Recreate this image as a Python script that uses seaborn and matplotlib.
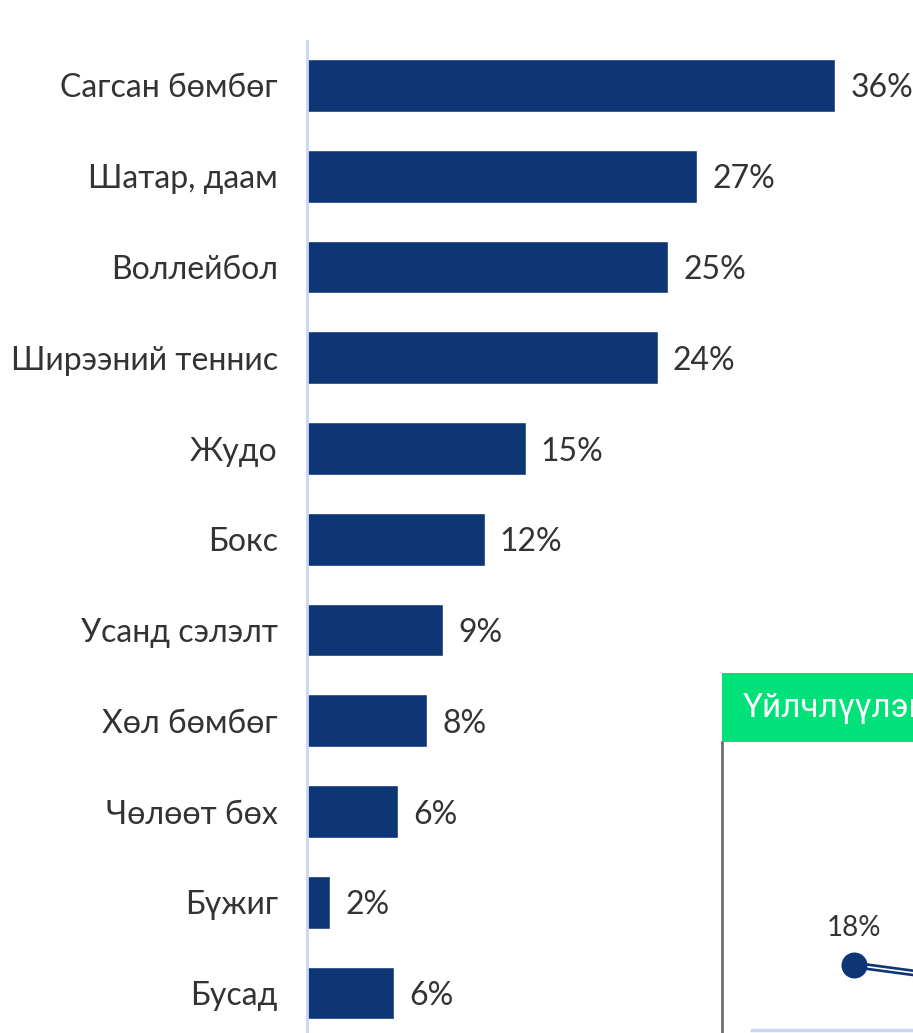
import matplotlib
matplotlib.use("Agg")
import matplotlib.pyplot as plt
import seaborn as sns
import pandas as pd

categories = ["Сагсан бөмбөг", "Шатар, даам", "Воллейбол", "Ширээний теннис", "Жудо",
              "Бокс", "Усанд сэлэлт", "Хөл бөмбөг", "Чөлөөт бөх", "Бүжиг", "Бусад"]
values = [36.0, 26.6, 24.6, 23.9, 14.9, 12.1, 9.3, 8.2, 6.2, 1.6, 5.9]

inset_title = "Үйлчлүүлэгч"
inset_x = [0, 1]
inset_values = [18, 12.7]

BAR = "#0E3574"
TXT = "#333333"

sns.set_theme(style="white")
plt.rcParams["font.family"] = ["Lato", "DejaVu Sans"]

W, H = 913, 1033
fig = plt.figure(figsize=(W / 100, H / 100), dpi=100)
fig.patch.set_facecolor("white")

ax = fig.add_axes([307 / W, 0, 1 - 307 / W, (1033 - 41) / H])
df = pd.DataFrame({"cat": categories, "val": values})
sns.barplot(data=df, y="cat", x="val", orient="h", color=BAR, saturation=1,
            width=0.58, ax=ax)
ax.set_xlim(0, 606 / 14.67)
ax.set_ylim(10.44, -0.49)
for s in ["top", "right", "bottom"]:
    ax.spines[s].set_visible(False)
ax.spines["left"].set_color("#C8D5F5")
ax.spines["left"].set_linewidth(2)
ax.set_xticks([])
ax.set_xlabel("")
ax.set_ylabel("")
ax.tick_params(axis="y", length=0, pad=21, labelsize=23, labelcolor=TXT)
for i, v in enumerate(values):
    ax.annotate(f"{round(v):.0f}%", (v, i), xytext=(11, 0), textcoords="offset points",
                ha="left", va="center_baseline", fontsize=23, color=TXT)

# partial inset panel at bottom right
ax2 = fig.add_axes([722 / W, 0, (W - 722) / W, (1033 - 742) / H])
ax2.set_facecolor("none")
sns.lineplot(x=inset_x, y=inset_values, ax=ax2, color=BAR, linewidth=5)
sns.lineplot(x=inset_x, y=inset_values, ax=ax2, color="white", linewidth=1.2)
sns.scatterplot(x=inset_x[:1], y=inset_values[:1], ax=ax2, color=BAR, s=300,
                edgecolor=BAR, zorder=5)
ax2.set_xlim(-0.88, 0.393)
ax2.set_ylim(0, 77)
ax2.set_xticks([])
ax2.set_yticks([])
ax2.set_xlabel("")
ax2.set_ylabel("")
for s in ["top", "right"]:
    ax2.spines[s].set_visible(False)
ax2.spines["left"].set_color("#6e6e6e")
ax2.spines["left"].set_linewidth(2)
ax2.spines["bottom"].set_color("#C8D5F5")
ax2.spines["bottom"].set_linewidth(2.5)
ax2.spines["bottom"].set_bounds(-0.68, 0.393)
ax2.spines["bottom"].set_position(("outward", -2))
ax2.annotate(f"{inset_values[0]}%", (0, inset_values[0]), xytext=(0, 17),
             textcoords="offset points", ha="center", va="bottom", fontsize=20, color=TXT)

hdr = fig.add_axes([722 / W, (1033 - 742) / H, (W - 722) / W, (742 - 673) / H])
hdr.set_facecolor("#00E17A")
hdr.set_xticks([])
hdr.set_yticks([])
for s in hdr.spines.values():
    s.set_visible(False)
hdr.text(21 / (W - 722), 0.5, inset_title, transform=hdr.transAxes, ha="left",
         va="center", fontsize=24, color="white", family=["Roboto", "DejaVu Sans"])

fig.savefig("out.png", dpi=100)
